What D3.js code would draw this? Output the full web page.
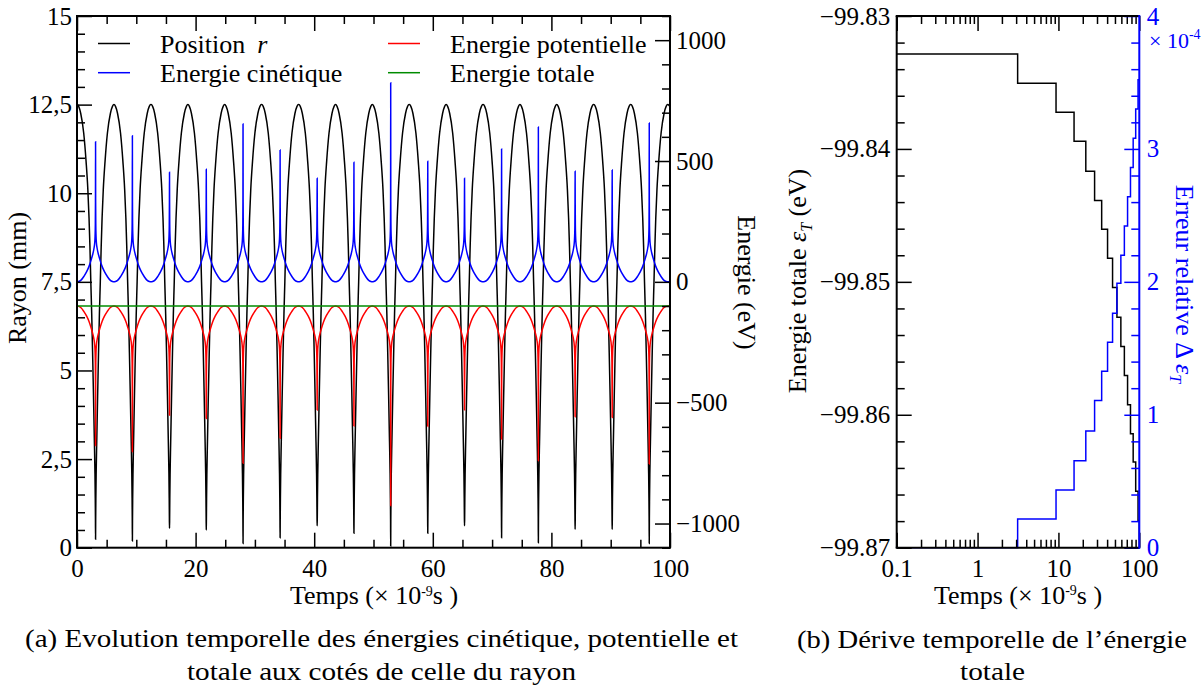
<!DOCTYPE html>
<html><head><meta charset="utf-8">
<script src="https://cdn.jsdelivr.net/npm/d3@7"></script>
<style>body{margin:0;background:#fff}svg{display:block}text{font-family:"Liberation Serif","Times New Roman",serif}</style>
</head><body><svg id="c" width="1204" height="688"></svg>
<script>
// ---------- DATA ----------
// Left panel: times of the radial minima (x 1e-9 s) and per-cycle extreme values
const troughT = [3.13, 9.34, 15.6, 21.8, 28.0, 34.25, 40.5, 46.7, 52.9, 59.15, 65.35, 71.6, 77.8, 84.0, 90.25, 96.5];
const rMin    = [0.24, 0.19, 0.55, 0.50, 0.12, 0.28, 0.62, 0.41, 0.05, 0.41, 0.62, 0.28, 0.14, 0.52, 0.52, 0.12];
const kinPeak = [580, 605, 454, 466, 653, 546, 429, 495, 824, 499, 429, 550, 641, 458, 463, 657];
const potDip  = [-678, -703, -552, -565, -751, -647, -530, -596, -926, -598, -530, -651, -740, -558, -561, -754];
// one half-cycle shape (time offset from a minimum -> value)
const posDt = [0, 0.02, 0.05, 0.1, 0.2, 0.35, 0.5, 0.65, 0.8, 0.95, 1.1, 1.3, 1.6, 2.0, 2.5, 2.85, 3.11];
const posR  = [null, 0.8, 1.4, 2.1, 3.0, 4.3, 5.5, 6.6, 7.5, 8.5, 9.3, 10.1, 10.9, 11.7, 12.25, 12.45, 12.5];
const kinDt = [0, 0.015, 0.04, 0.08, 0.15, 0.27, 0.5, 0.73, 1.1, 1.5, 1.96, 2.5, 2.85, 3.11];
const kinE  = [null, 330, 235, 190, 160, 138, 112, 92, 64, 42, 23, 6, 1.5, 0];
const potDt = [0, 0.015, 0.04, 0.08, 0.15, 0.27, 0.5, 0.73, 1.1, 1.5, 1.96, 2.5, 2.85, 3.11];
const potE  = [null, -430, -335, -290, -260, -238, -212, -192, -164, -142, -123, -106, -101.3, -99.9];
const edgeT   = [0, 100];
const posEdge = [12.5, 12.45];
const kinEdge = [0, 0.3];
const potEdge = [-99.9, -100.2];
const totT = [0, 100];
const totE = [-99.83, -99.83];

// Right panel: step series
const driftT = [0.1, 3.13, 9.34, 15.6, 21.8, 28.0, 34.25, 40.5, 46.7, 52.9, 59.15, 65.35, 71.6, 77.8, 84.0, 90.25, 96.5, 99.9];
const driftE = [-99.83285, -99.83505, -99.83725, -99.83943, -99.84168, -99.84388, -99.84605, -99.84823, -99.85042,
                -99.85267, -99.85486, -99.85705, -99.85925, -99.86143, -99.86355, -99.86575, -99.86795, -99.8702];
const errT = [0.1, 3.13, 9.34, 15.6, 21.8, 28.0, 34.25, 40.5, 46.7, 52.9, 59.15, 65.35, 71.6, 77.8, 84.0, 90.25, 96.5, 100];
const errV = [0, 0.216, 0.434, 0.655, 0.878, 1.107, 1.327, 1.545, 1.764, 1.99, 2.2, 2.42, 2.64, 2.86, 3.08, 3.3, 3.52, 3.52];

// Tick labels
const leftTicks = [0, 2.5, 5, 7.5, 10, 12.5, 15];
const leftTickLabels = ["0", "2,5", "5", "7,5", "10", "12,5", "15"];
const energyTicks = [-1000, -500, 0, 500, 1000];
const timeTicks = [0, 20, 40, 60, 80, 100];
const logTicks = [0.1, 1, 10, 100];
const logTickLabels = ["0.1", "1", "10", "100"];
const etTicks = [-99.87, -99.86, -99.85, -99.84, -99.83];
const errTicks = [0, 1, 2, 3, 4];

// ---------- DRAWING ----------
const FONT = '"Liberation Serif","Times New Roman",serif';
const BLACK = "#000", BLUE = "#0000ff", RED = "#ff0000", GREEN = "#008b00";
const svg = d3.select("#c");
svg.append("rect").attr("width", 1204).attr("height", 688).attr("fill", "#fff");

const A = {x0: 77, x1: 670, y0: 16, y1: 547.7};
const B = {x0: 896.7, x1: 1139.3, y0: 16, y1: 547.7};

const xL = d3.scaleLinear().domain([0, 100]).range([A.x0, A.x1]);
const yL = d3.scaleLinear().domain([0, 15]).range([A.y1, A.y0]);
const yLE = d3.scaleLinear().domain([-1100, 1100]).range([A.y1, A.y0]);
const xR = d3.scaleLog().domain([0.1, 100]).range([B.x0, B.x1]);
const yRE = d3.scaleLinear().domain([-99.87, -99.83]).range([B.y1, B.y0]);
const yRErr = d3.scaleLinear().domain([0, 4]).range([B.y1, B.y0]);

const defs = svg.append("defs");
defs.append("clipPath").attr("id", "clipA").append("rect")
  .attr("x", A.x0).attr("y", A.y0).attr("width", A.x1 - A.x0).attr("height", A.y1 - A.y0);
defs.append("clipPath").attr("id", "clipB").append("rect")
  .attr("x", B.x0).attr("y", B.y0 - 1).attr("width", B.x1 - B.x0).attr("height", B.y1 - B.y0 + 2);

function buildSeries(dts, vals, extremes, edgeVals) {
  const n = troughT.length;
  const pts = [[edgeT[0], edgeVals[0]]];
  troughT.forEach((tc, i) => {
    const left = i > 0 ? (tc - troughT[i - 1]) / 2 : tc;
    const right = i < n - 1 ? (troughT[i + 1] - tc) / 2 : edgeT[1] - tc;
    for (let j = dts.length - 1; j >= 1; j--) if (dts[j] < left) pts.push([tc - dts[j], vals[j]]);
    pts.push([tc, extremes[i]]);
    for (let j = 1; j < dts.length; j++) if (dts[j] < right) pts.push([tc + dts[j], vals[j]]);
    if (i < n - 1) pts.push([tc + right, vals[vals.length - 1]]);
  });
  pts.push([edgeT[1], edgeVals[1]]);
  pts.sort((a, b) => a[0] - b[0]);
  return pts.filter((p, i) => i === 0 || p[0] > pts[i - 1][0] + 1e-9);
}

const posData = buildSeries(posDt, posR, rMin, posEdge);
const kinData = buildSeries(kinDt, kinE, kinPeak, kinEdge);
const potData = buildSeries(potDt, potE, potDip, potEdge);
const totData = totT.map((t, i) => [t, totE[i]]);

const gA = svg.append("g").attr("clip-path", "url(#clipA)");
const lineR = d3.line().x(d => xL(d[0])).y(d => yL(d[1])).curve(d3.curveMonotoneX);
const lineE = d3.line().x(d => xL(d[0])).y(d => yLE(d[1])).curve(d3.curveMonotoneX);
gA.append("path").attr("d", lineR(posData)).attr("fill", "none").attr("stroke", BLACK).attr("stroke-width", 1.5);
gA.append("path").attr("d", lineE(kinData)).attr("fill", "none").attr("stroke", BLUE).attr("stroke-width", 1.5);
gA.append("path").attr("d", lineE(potData)).attr("fill", "none").attr("stroke", RED).attr("stroke-width", 1.5);
gA.append("path").attr("d", lineE(totData)).attr("fill", "none").attr("stroke", GREEN).attr("stroke-width", 1.5);

// Right panel data
const gB = svg.append("g").attr("clip-path", "url(#clipB)");
const stepE = d3.line().x(d => xR(d[0])).y(d => yRE(d[1])).curve(d3.curveStepAfter);
const stepErr = d3.line().x(d => xR(d[0])).y(d => yRErr(d[1])).curve(d3.curveStepAfter);
gB.append("path").attr("d", stepE(driftT.map((t, i) => [t, driftE[i]]))).attr("fill", "none").attr("stroke", BLACK).attr("stroke-width", 1.5);
gB.append("path").attr("d", stepErr(errT.map((t, i) => [t, errV[i]]))).attr("fill", "none").attr("stroke", BLUE).attr("stroke-width", 1.5);

// Axes helper
function axis(gen, scale, vals, size, fmt, pad, color, tx, ty) {
  const ax = gen(scale).tickValues(vals).tickSizeInner(-size).tickSizeOuter(0).tickPadding(pad)
    .tickFormat(fmt || (() => ""));
  const g = svg.append("g").attr("transform", `translate(${tx},${ty})`).call(ax);
  g.select(".domain").remove();
  g.attr("font-family", FONT).attr("font-size", 25);
  g.selectAll("line").attr("stroke", color).attr("stroke-width", 1.5);
  g.selectAll("text").attr("fill", color);
  return g;
}
const minorOf = (arr, majors) => arr.filter(v => !majors.some(m => Math.abs(m - v) < 1e-9));

// Left panel axes
const xMin = minorOf(d3.range(0, 101, 5), timeTicks);
axis(d3.axisBottom, xL, timeTicks, 15, d => d, 11.3, BLACK, 0, A.y1);
axis(d3.axisBottom, xL, xMin, 8, null, 0, BLACK, 0, A.y1);
axis(d3.axisTop, xL, timeTicks, 15, null, 0, BLACK, 0, A.y0);
axis(d3.axisTop, xL, xMin, 8, null, 0, BLACK, 0, A.y0);
const yMinL = minorOf(d3.range(0, 30.5, 1).map(v => v / 2), leftTicks);
axis(d3.axisLeft, yL, leftTicks, 15, (d, i) => leftTickLabels[i], 5, BLACK, A.x0, 0);
axis(d3.axisLeft, yL, yMinL, 8, null, 0, BLACK, A.x0, 0);
const eMin = minorOf(d3.range(-1100, 1101, 100), energyTicks);
axis(d3.axisRight, yLE, energyTicks, 15, d => d < 0 ? "\u2212" + Math.abs(d) : String(d), 6, BLACK, A.x1, 0);
axis(d3.axisRight, yLE, eMin, 8, null, 0, BLACK, A.x1, 0);
svg.append("rect").attr("x", A.x0).attr("y", A.y0).attr("width", A.x1 - A.x0).attr("height", A.y1 - A.y0)
  .attr("fill", "none").attr("stroke", BLACK).attr("stroke-width", 2);

// Right panel axes
const logMin = [];
[0.1, 1, 10].forEach(dec => { for (let k = 2; k <= 9; k++) logMin.push(dec * k); });
axis(d3.axisBottom, xR, logTicks, 15, (d, i) => logTickLabels[i], 11.3, BLACK, 0, B.y1);
axis(d3.axisBottom, xR, logMin, 8, null, 0, BLACK, 0, B.y1);
axis(d3.axisTop, xR, logTicks, 15, null, 0, BLACK, 0, B.y0);
axis(d3.axisTop, xR, logMin, 8, null, 0, BLACK, 0, B.y0);
const etMin = minorOf(d3.range(0, 21).map(k => -99.87 + k * 0.002), etTicks);
axis(d3.axisLeft, yRE, etTicks, 15, d => "\u2212" + Math.abs(d).toFixed(2), 6.5, BLACK, B.x0, 0);
axis(d3.axisLeft, yRE, etMin, 8, null, 0, BLACK, B.x0, 0);
const errMin = minorOf(d3.range(0, 21).map(k => k * 0.2), errTicks);
axis(d3.axisRight, yRErr, errTicks, 15, d => String(d), 7.5, BLUE, B.x1, 0);
axis(d3.axisRight, yRErr, errMin, 8, null, 0, BLUE, B.x1, 0);
const frameB = svg.append("g").attr("stroke-width", 2).attr("fill", "none");
frameB.append("line").attr("x1", B.x0 - 1).attr("x2", B.x1).attr("y1", B.y0).attr("y2", B.y0).attr("stroke", BLACK);
frameB.append("line").attr("x1", B.x0 - 1).attr("x2", B.x1).attr("y1", B.y1).attr("y2", B.y1).attr("stroke", BLACK);
frameB.append("line").attr("x1", B.x0).attr("x2", B.x0).attr("y1", B.y0).attr("y2", B.y1).attr("stroke", BLACK);
frameB.append("line").attr("x1", B.x1).attr("x2", B.x1).attr("y1", B.y0 - 1).attr("y2", B.y1 + 1).attr("stroke", BLUE);

// x10^-4 multiplier
const mult = svg.append("text").attr("x", 1149).attr("y", 48).attr("fill", BLUE).attr("font-size", 22).attr("font-family", FONT);
mult.append("tspan").text("\u00d7 10");
mult.append("tspan").attr("font-size", 14).attr("dy", -9).text("-4");

// Legend
const legend = [
  {label: "Position", color: BLACK, x: 98, y: 43.5, italic: "r"},
  {label: "Energie cinétique", color: BLUE, x: 98, y: 72.7},
  {label: "Energie potentielle", color: RED, x: 388, y: 43.5},
  {label: "Energie totale", color: GREEN, x: 388, y: 72.7}
];
legend.forEach(e => {
  svg.append("line").attr("x1", e.x).attr("x2", e.x + 32).attr("y1", e.y).attr("y2", e.y)
    .attr("stroke", e.color).attr("stroke-width", 1.5);
  const t = svg.append("text").attr("x", e.x + 62).attr("y", e.y + 9.7).attr("font-size", 26).attr("fill", BLACK);
  t.append("tspan").text(e.label);
  if (e.italic) t.append("tspan").attr("dx", 12).attr("font-style", "italic").text(e.italic);
});

// Axis titles
function xTitle(cx, y) {
  const t = svg.append("text").attr("x", cx).attr("y", y).attr("text-anchor", "middle").attr("font-size", 26);
  t.append("tspan").text("Temps (\u00d7 10");
  t.append("tspan").attr("font-size", 14).attr("dy", -8.5).text("-9");
  t.append("tspan").attr("dy", 8.5).text("s )");
}
xTitle(374, 604);
xTitle(1018, 603.5);

svg.append("text").attr("transform", "translate(26,278) rotate(-90)").attr("text-anchor", "middle")
  .attr("font-size", 26).text("Rayon (mm)");
svg.append("text").attr("transform", "translate(738,282.5) rotate(90)").attr("text-anchor", "middle")
  .attr("font-size", 26).text("Energie (eV)");

const tl = svg.append("text").attr("transform", "translate(806,281) rotate(-90)").attr("text-anchor", "middle").attr("font-size", 26);
tl.append("tspan").text("Energie totale ");
tl.append("tspan").attr("font-style", "italic").text("\u03b5");
tl.append("tspan").attr("font-style", "italic").attr("font-size", 16).attr("dy", 6).text("T");
tl.append("tspan").attr("dy", -6).text(" (eV)");

const tr = svg.append("text").attr("transform", "translate(1176,284) rotate(90)").attr("text-anchor", "middle").attr("font-size", 26).attr("fill", BLUE);
tr.append("tspan").text("Erreur relative \u0394 ");
tr.append("tspan").attr("font-style", "italic").text("\u03b5");
tr.append("tspan").attr("font-style", "italic").attr("font-size", 16).attr("dy", 6).text("T");

// Captions
const captions = [
  {text: "(a) Evolution temporelle des énergies cinétique, potentielle et", x0: 25, x1: 738, y: 647},
  {text: "totale aux cotés de celle du rayon", x0: 187, x1: 576, y: 680},
  {text: "(b) Dérive temporelle de l\u2019énergie", x0: 797, x1: 1187, y: 648},
  {text: "totale", x0: 960, x1: 1025, y: 680}
];
captions.forEach(c => {
  svg.append("text").attr("x", c.x0).attr("y", c.y).attr("font-size", 25.5)
    .attr("textLength", c.x1 - c.x0).attr("lengthAdjust", "spacingAndGlyphs").text(c.text);
});
</script></body></html>
